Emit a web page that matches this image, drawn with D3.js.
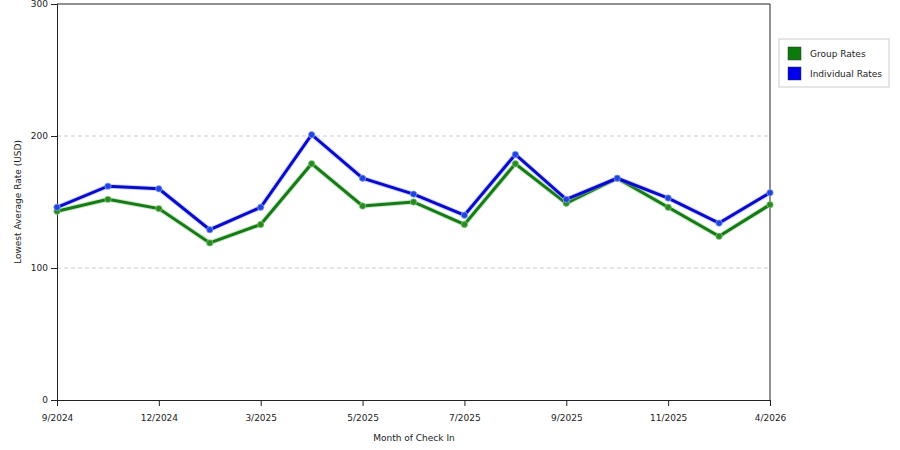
<!DOCTYPE html>
<html>
<head>
<meta charset="utf-8">
<script src="https://cdn.jsdelivr.net/npm/d3@7"></script>
<style>
  body { margin: 0; background: #fff; }
  text { font-family: "DejaVu Sans", Verdana, sans-serif; fill: #222; }
</style>
</head>
<body>
<script>
// données
const months = ["9/2024", "10/2024", "12/2024", "1/2025", "3/2025", "4/2025", "5/2025", "6/2025",
  "7/2025", "8/2025", "9/2025", "10/2025", "11/2025", "12/2025", "4/2026"]
const tickLabels = ["9/2024", "12/2024", "3/2025", "5/2025", "7/2025", "9/2025", "11/2025", "4/2026"]
const groupRates = [143, 152, 145, 119, 133, 179, 147, 150, 133, 179, 149, 168, 146, 124, 148]
const individualRates = [146, 162, 160, 129, 146, 201, 168, 156, 140, 186, 152, 168, 153, 134, 157]
const yTicks = [0, 100, 200, 300]

const W = 900, H = 450
const mLeft = 57, mRight = 770, mTop = 4, mBottom = 400

let svg = d3.select("body")
    .append("svg")
    .attr("width", W)
    .attr("height", H)

const x = d3.scalePoint()
    .domain(months)
    .range([mLeft, mRight])

const y = d3.scaleLinear()
    .domain([0, 300])
    .range([mBottom, mTop])

// grille pointillée
svg.append("g")
    .selectAll("line")
    .data(yTicks.slice(1, -1))
    .enter()
    .append("line")
    .attr("x1", mLeft)
    .attr("x2", mRight)
    .attr("y1", d => y(d))
    .attr("y2", d => y(d))
    .attr("stroke", "#ccc")
    .attr("stroke-dasharray", "4,3")

// cadre haut et droite
svg.append("path")
    .attr("d", `M${mLeft},${mTop}H${mRight}V${mBottom}`)
    .attr("fill", "none")
    .attr("stroke", "#222")

// axes
const yAxis = svg.append("g")
    .attr("transform", `translate(${mLeft},0)`)
    .call(d3.axisLeft(y).tickValues(yTicks).tickSize(6).tickPadding(3))
const xAxis = svg.append("g")
    .attr("transform", `translate(0,${mBottom})`)
    .call(d3.axisBottom(x)
        .tickValues(months.filter(m => tickLabels.includes(m)))
        .tickSize(6).tickPadding(9))

for (const a of [xAxis, yAxis]) {
    a.select(".domain").attr("stroke", "#222")
    a.selectAll(".tick line").attr("stroke", "#222")
    a.selectAll("text").style("font-size", "9px").attr("fill", "#222")
}

// titres des axes
svg.append("text")
    .attr("x", 414)
    .attr("y", 441)
    .attr("text-anchor", "middle")
    .style("font-size", "9px")
    .text("Month of Check In")

svg.append("text")
    .attr("transform", "translate(21,202) rotate(-90)")
    .attr("text-anchor", "middle")
    .style("font-size", "9px")
    .text("Lowest Average Rate (USD)")

// séries
const series = [
    { name: "Group Rates", values: groupRates, color: "#167a16", dot: "#2a8a1e", halo: "#8ccc8c" },
    { name: "Individual Rates", values: individualRates, color: "#0a0acc", dot: "#1f45e0", halo: "#9aa8f2" }
]

const line = d3.line()
    .x((d, i) => x(months[i]))
    .y(d => y(d))

series.forEach(s => {
    const g = svg.append("g")
    g.append("path")
        .datum(s.values)
        .attr("d", line)
        .attr("fill", "none")
        .attr("stroke", s.halo)
        .attr("stroke-opacity", 0.45)
        .attr("stroke-width", 5)
    g.append("path")
        .datum(s.values)
        .attr("d", line)
        .attr("fill", "none")
        .attr("stroke", s.color)
        .attr("stroke-width", 3)
    g.selectAll("circle")
        .data(s.values)
        .enter()
        .append("circle")
        .attr("cx", (d, i) => x(months[i]))
        .attr("cy", d => y(d))
        .attr("r", 3.2)
        .attr("fill", s.dot)
        .attr("stroke", s.halo)
        .attr("stroke-opacity", 0.7)
        .attr("stroke-width", 1)
})

// légende
const legend = svg.append("g").attr("transform", "translate(779,39)")
legend.append("rect")
    .attr("width", 110)
    .attr("height", 48)
    .attr("fill", "#fff")
    .attr("stroke", "#ccc")

series.forEach((s, i) => {
    legend.append("rect")
        .attr("x", 9)
        .attr("y", 8 + i * 20)
        .attr("width", 13)
        .attr("height", 13)
        .attr("fill", i === 0 ? "#0d7a0d" : "#0000ee")
        .attr("stroke", "#333")
        .attr("stroke-width", 0.5)
    legend.append("text")
        .attr("x", 31)
        .attr("y", 18 + i * 20)
        .style("font-size", "9px")
        .text(s.name)
})
</script>
</body>
</html>
